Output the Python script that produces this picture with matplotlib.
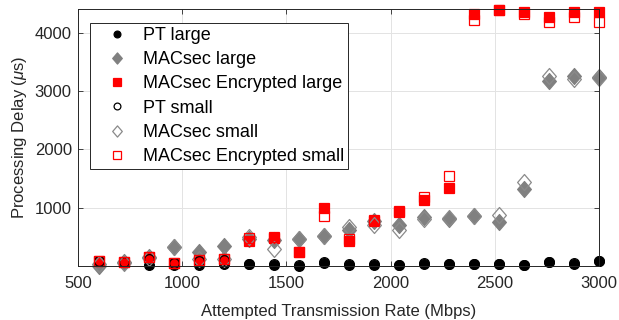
import matplotlib

matplotlib.use("Agg")
import matplotlib.pyplot as plt
from matplotlib.path import Path

plt.rcParams["font.family"] = ["Liberation Sans", "DejaVu Sans"]
plt.rcParams["mathtext.fontset"] = "custom"
plt.rcParams["mathtext.rm"] = "Liberation Sans"
plt.rcParams["mathtext.it"] = "Liberation Sans:italic"

rate = [600, 720, 840, 960, 1080, 1200, 1320, 1440, 1560, 1680, 1800,
        1920, 2040, 2160, 2280, 2400, 2520, 2640, 2760, 2880, 3000]

pt_large = [60, 50, 25, 20, 25, 37, 26, 23, -5, 60, 23,
            23, 12, 42, 32, 32, 32, 12, 72, 42, 86]
macsec_large = [0, 70, 150, 320, 240, 335, 470, 440, 470, 510, 624,
                767, 697, 845, 813, 865, 755, 1318, 3170, 3267, 3245]
enc_large = [80, 66, 150, 60, 100, 128, 430, 475, 240, 1000, 430,
             770, 928, 1133, 1345, 4320, 4400, 4350, 4280, 4350, 4360]
pt_small = [80, 66, 124, 60, 90, 100, 40, 30, 10, 65, 30,
            30, 20, 45, 40, 35, 35, 20, 70, 45, 85]
macsec_small = [40, 60, 140, 320, 124, 124, 500, 296, 470, 510, 670,
                697, 612, 813, 830, 865, 870, 1445, 3267, 3210, 3230]
enc_small = [80, 66, 150, 60, 100, 128, 480, 490, 240, 855, 460,
             790, 945, 1187, 1543, 4220, 4390, 4330, 4186, 4280, 4186]

GRAY = "#808080"
RED = "#ff0000"
AX = "#262626"

# slightly taller-than-wide diamond
diamond = Path([(0, 1), (0.86, 0), (0, -1), (-0.86, 0), (0, 1)],
               [Path.MOVETO, Path.LINETO, Path.LINETO, Path.LINETO, Path.CLOSEPOLY])

series = [
    ("PT large", pt_large, dict(marker="o", ms=7, mfc="black", mec="black")),
    ("MACsec large", macsec_large, dict(marker=diamond, ms=11.5, mfc=GRAY, mec=GRAY)),
    ("MACsec Encrypted large", enc_large, dict(marker="s", ms=7.6, mfc=RED, mec=RED)),
    ("PT small", pt_small, dict(marker="o", ms=7, mfc="none", mec="black")),
    ("MACsec small", macsec_small, dict(marker=diamond, ms=11.5, mfc="none", mec="#8a8a8a")),
    ("MACsec Encrypted small", enc_small, dict(marker="s", ms=7.6, mfc="none", mec=RED)),
]

fig = plt.figure(figsize=(6.19, 3.2), dpi=100)
ax = fig.add_axes([78 / 619, 54 / 320, 521 / 619, 257 / 320])

for label, vals, style in series:
    ax.plot(rate, vals, linestyle="none", mew=0.9, clip_on=False, label=label, **style)

ax.set_xlim(500, 3000)
ax.set_ylim(0, 4410)
ax.set_xticks([500, 1000, 1500, 2000, 2500, 3000])
ax.set_yticks([1000, 2000, 3000, 4000])
ax.grid(True, color="#e3e3e3", linewidth=0.7)
ax.set_axisbelow(True)
ax.tick_params(direction="in", length=3.5, width=0.6, colors=AX, labelsize=12,
               top=True, right=True)
ax.tick_params(axis="x", pad=7)
ax.tick_params(axis="y", pad=4.5)
for sp in ax.spines.values():
    sp.set_color(AX)
    sp.set_linewidth(0.7)
ax.set_xlabel("Attempted Transmission Rate (Mbps)", fontsize=12, color=AX, labelpad=9.5)
ax.set_ylabel(r"Processing Delay ($\mu$s)", fontsize=12, color=AX, labelpad=4)

leg = ax.legend(loc="upper left", bbox_to_anchor=(0.023, 0.9455), borderaxespad=0,
                fontsize=13, markerscale=0.7, fancybox=False, framealpha=1,
                edgecolor=AX, handlelength=2.5, handletextpad=0.22,
                labelspacing=0.4, borderpad=0.22)
leg.get_frame().set_linewidth(0.7)
for t in leg.get_texts():
    t.set_color("black")

fig.savefig("out.png", dpi=100)
